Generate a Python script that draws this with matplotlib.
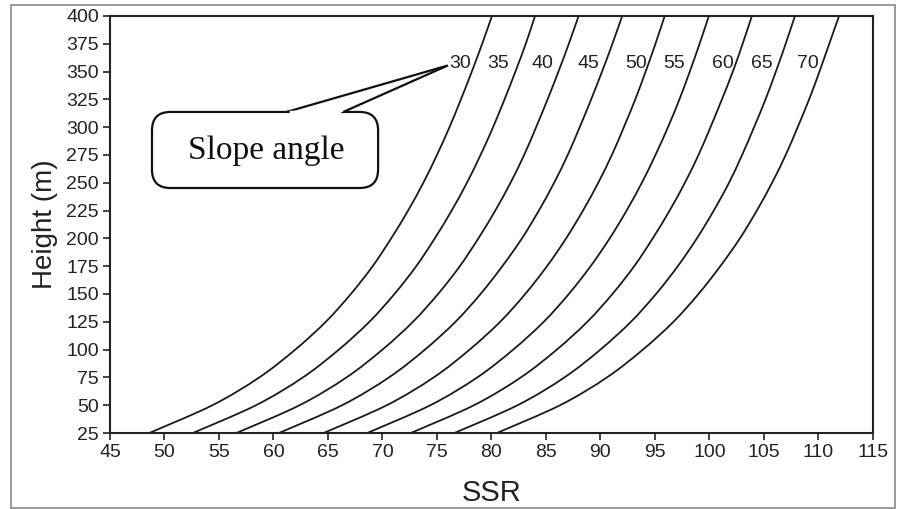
import matplotlib
matplotlib.use("Agg")
import numpy as np
import matplotlib.pyplot as plt
from matplotlib.patches import FancyBboxPatch, Polygon, Rectangle, PathPatch
from matplotlib.path import Path

plt.rcParams['font.family'] = ['Liberation Sans', 'DejaVu Sans']

# Data
heights = [25, 50, 75, 100, 125, 150, 175, 200, 225, 250, 275, 300, 325, 350, 375, 400]
angles = [30, 35, 40, 45, 50, 55, 60, 65, 70]
ssr_30 = [48.6, 54.4, 58.7, 62.0, 64.8, 67.1, 69.1, 70.8, 72.35, 73.75, 75.0, 76.15, 77.2, 78.2, 79.15, 80.05]
ssr_35 = [52.6, 58.4, 62.7, 66.0, 68.8, 71.1, 73.1, 74.8, 76.35, 77.75, 79.0, 80.15, 81.2, 82.2, 83.15, 84.0]
ssr_40 = [56.6, 62.4, 66.7, 70.0, 72.8, 75.1, 77.1, 78.8, 80.35, 81.75, 83.0, 84.1, 85.15, 86.15, 87.1, 88.0]
ssr_45 = [60.5, 66.3, 70.6, 73.9, 76.7, 79.0, 81.0, 82.8, 84.35, 85.75, 87.0, 88.1, 89.15, 90.15, 91.1, 92.0]
ssr_50 = [64.6, 70.4, 74.7, 78.0, 80.8, 83.1, 85.1, 86.85, 88.4, 89.8, 91.05, 92.15, 93.2, 94.15, 95.05, 95.9]
ssr_55 = [68.6, 74.4, 78.7, 82.0, 84.8, 87.1, 89.1, 90.85, 92.4, 93.8, 95.05, 96.2, 97.25, 98.2, 99.1, 99.95]
ssr_60 = [72.6, 78.4, 82.7, 86.0, 88.8, 91.1, 93.1, 94.8, 96.35, 97.75, 99.0, 100.1, 101.15, 102.15, 103.05, 103.9]
ssr_65 = [76.6, 82.4, 86.7, 90.0, 92.8, 95.1, 97.1, 98.85, 100.4, 101.8, 103.0, 104.1, 105.15, 106.1, 107.0, 107.85]
ssr_70 = [80.5, 86.3, 90.6, 93.9, 96.7, 99.0, 101.0, 102.8, 104.35, 105.75, 107.0, 108.1, 109.15, 110.1, 111.0, 111.9]
series = [ssr_30, ssr_35, ssr_40, ssr_45, ssr_50, ssr_55, ssr_60, ssr_65, ssr_70]
label_x = [77.1, 80.6, 84.7, 88.9, 93.3, 96.8, 101.2, 104.8, 109.0]
label_h = 357

xticks = list(range(45, 116, 5))
yticks = list(range(25, 401, 25))


def smooth_path(xs, ys):
    """Excel-like smoothed line through the given points (Catmull-Rom as Bezier)."""
    P = np.column_stack([xs, ys]).astype(float)
    n = len(P)
    verts = [P[0]]
    codes = [Path.MOVETO]
    for i in range(n - 1):
        p0 = P[i - 1] if i > 0 else P[i]
        p1 = P[i]
        p2 = P[i + 1]
        p3 = P[i + 2] if i + 2 < n else P[i + 1]
        c1 = p1 + (p2 - p0) / 6.0
        c2 = p2 - (p3 - p1) / 6.0
        verts += [c1, c2, p2]
        codes += [Path.CURVE4] * 3
    return Path(verts, codes)


fig = plt.figure(figsize=(8.98, 5.09), dpi=100)
ax = fig.add_axes([0.1225, 0.1493, 0.972 - 0.1225, 0.9686 - 0.1493])

# outer frame of the picture
fig.patches.append(Rectangle((11 / 898, 1 / 509), (895 - 11) / 898, (504 - 1) / 509,
                             transform=fig.transFigure, fill=False,
                             edgecolor='#888888', linewidth=1.2))

for s in series:
    ax.add_patch(PathPatch(smooth_path(s, heights), facecolor='none',
                           edgecolor='#1a1a1a', linewidth=1.3, clip_on=True))

for a, lx in zip(angles, label_x):
    ax.text(lx, label_h, str(a), ha='center', va='center', fontsize=14,
            color='#222222', zorder=3)

# callout "Slope angle"
box = FancyBboxPatch((48.85, 245.3), 69.6 - 48.85, 313.7 - 245.3,
                     boxstyle="round,pad=0,rounding_size=1.7",
                     mutation_aspect=9.8, facecolor='white',
                     edgecolor='#111111', linewidth=1.6, zorder=4)
ax.add_patch(box)
wedge = Polygon([(61.2, 313.7), (76.0, 355.5), (66.4, 313.7)], closed=False,
                facecolor='white', edgecolor='#111111', linewidth=1.6, zorder=5)
ax.add_patch(wedge)
ax.plot([61.6, 66.0], [313.7, 313.7], color='white', linewidth=2.5, zorder=6)
ax.text(59.3, 279, 'Slope angle', ha='center', va='center', fontsize=24,
        family=['Liberation Serif', 'DejaVu Serif'], color='#111111', zorder=7)

ax.set_xlim(45, 115)
ax.set_ylim(25, 400)
ax.set_xticks(xticks)
ax.set_yticks(yticks)
ax.tick_params(axis='both', direction='out', length=5, width=1.2, labelsize=14,
               colors='#222222', pad=3)
for sp in ax.spines.values():
    sp.set_linewidth(1.5)
    sp.set_color('#222222')

ax.set_xlabel('SSR', fontsize=21, color='#222222', labelpad=13)
ax.set_ylabel('Height (m)', fontsize=20, color='#222222', labelpad=6)

fig.savefig('out.png', dpi=100)
